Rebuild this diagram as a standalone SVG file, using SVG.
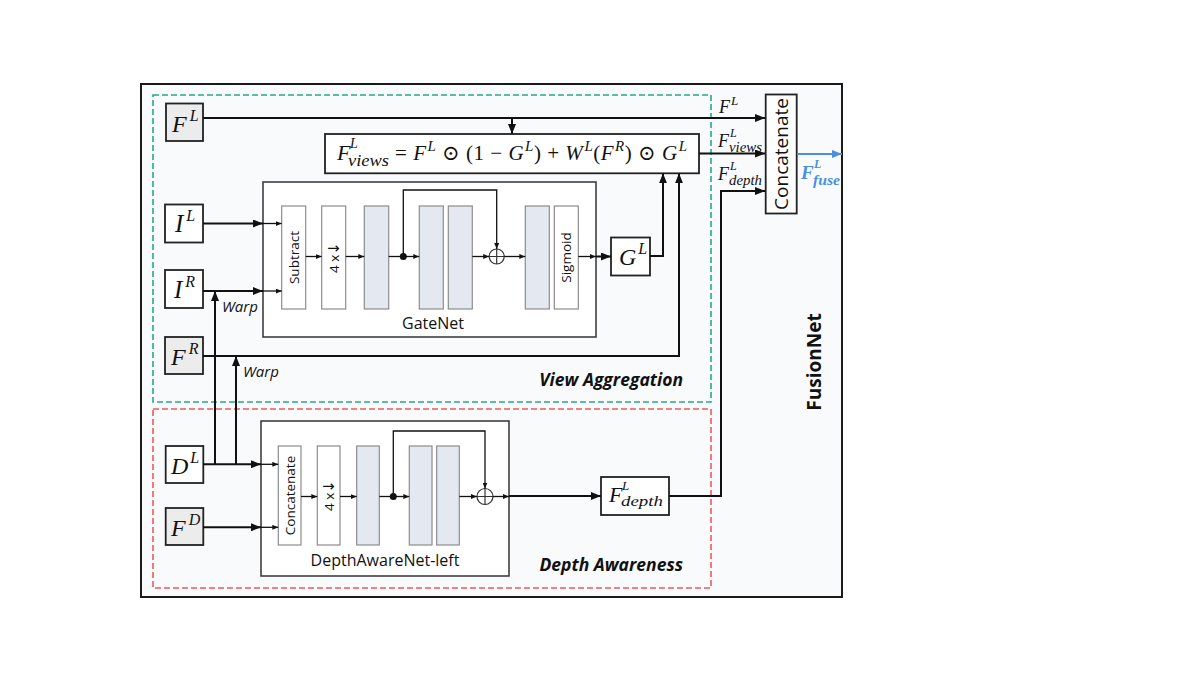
<svg xmlns="http://www.w3.org/2000/svg" width="1200" height="675" viewBox="0 0 1200 675">
<defs>
<style>
.frame{fill:#f9fafc;stroke:#1a1a1a;stroke-width:2}
.line{fill:none;stroke:#111;stroke-width:2}
.thin{fill:none;stroke:#111;stroke-width:1.3}
.node{fill:#fff;stroke:#222;stroke-width:1.8}
.gnode{fill:#ececec;stroke:#222;stroke-width:1.8}
.net{fill:#fff;stroke:#333;stroke-width:1.5}
.blk{fill:#fff;stroke:#8c8c8c;stroke-width:1.2}
.gblk{fill:#e4e9f1;stroke:#8c8c8c;stroke-width:1.2}
.math{font-family:"Liberation Serif","DejaVu Serif",serif;font-style:italic;fill:#111}
.up{font-style:normal}
.sans{font-family:"Open Sans","Liberation Sans",sans-serif;fill:#111}
.region{font-family:"Open Sans","Liberation Sans",sans-serif;font-weight:bold;font-style:italic;font-size:17.5px;fill:#111}
.arrowg{font-family:"DejaVu Sans",sans-serif}
</style>
<marker id="big" markerUnits="userSpaceOnUse" markerWidth="10" markerHeight="8" refX="10" refY="4" orient="auto"><path d="M0,0 L10,4 L0,8 z" fill="#111"/></marker>
<marker id="sm" markerUnits="userSpaceOnUse" markerWidth="6" markerHeight="5" refX="6" refY="2.5" orient="auto"><path d="M0,0 L6,2.5 L0,5 z" fill="#111"/></marker>
<marker id="blue" markerUnits="userSpaceOnUse" markerWidth="10" markerHeight="8" refX="10" refY="4" orient="auto"><path d="M0,0 L10,4 L0,8 z" fill="#4a8fe2"/></marker>
</defs>

<rect x="141" y="84" width="701" height="513" class="frame"/>
<rect x="153" y="95" width="558" height="307" fill="none" stroke="#2aa889" stroke-width="1.6" stroke-dasharray="6,3"/>
<rect x="153" y="409" width="558" height="179" fill="none" stroke="#ec5b5b" stroke-width="1.6" stroke-dasharray="6,3"/>

<text class="region" x="683" y="386" text-anchor="end">View Aggregation</text>
<text class="region" x="683" y="571" text-anchor="end">Depth Awareness</text>
<text class="sans" x="0" y="0" font-size="19" font-weight="bold" text-anchor="middle" transform="translate(821,362) rotate(-90)">FusionNet</text>

<g id="gatenet">
<rect x="263" y="182" width="333" height="155" class="net"/>
<rect x="281.7" y="206" width="24" height="103" class="blk"/>
<text class="sans" font-size="13.5" text-anchor="middle" transform="translate(298.5,257.5) rotate(-90)">Subtract</text>
<rect x="321.7" y="206" width="24" height="103" class="blk"/>
<text class="sans" font-size="13.5" text-anchor="middle" transform="translate(338.5,257.5) rotate(-90)">4 x<tspan class="arrowg" font-size="15">↓</tspan></text>
<rect x="364.3" y="206" width="24.4" height="103" class="gblk"/>
<rect x="419.3" y="206" width="24" height="103" class="gblk"/>
<rect x="448.3" y="206" width="24" height="103" class="gblk"/>
<rect x="525.3" y="206" width="24" height="103" class="gblk"/>
<rect x="554.3" y="206" width="24" height="103" class="blk"/>
<text class="sans" font-size="13.5" text-anchor="middle" transform="translate(571,257.5) rotate(-90)">Sigmoid</text>
<circle cx="496.7" cy="256.5" r="7.5" fill="#fff" stroke="#333" stroke-width="1.2"/>
<path d="M489.2,256.5 H504.2 M496.7,249 V264" stroke="#333" stroke-width="1.2"/>
<text class="sans" x="433" y="329" font-size="16" text-anchor="middle">GateNet</text>
</g>

<g id="depthawarenet">
<rect x="261" y="421" width="248" height="155" class="net"/>
<rect x="278.3" y="446" width="22.7" height="99" class="blk"/>
<text class="sans" font-size="13.5" text-anchor="middle" transform="translate(294.8,495.5) rotate(-90)">Concatenate</text>
<rect x="317.3" y="446" width="22.7" height="99" class="blk"/>
<text class="sans" font-size="13.5" text-anchor="middle" transform="translate(333.8,495.5) rotate(-90)">4 x<tspan class="arrowg" font-size="15">↓</tspan></text>
<rect x="356.7" y="446" width="22.6" height="99" class="gblk"/>
<rect x="409.3" y="446" width="22.7" height="99" class="gblk"/>
<rect x="436.7" y="446" width="22.6" height="99" class="gblk"/>
<circle cx="485" cy="496.5" r="8" fill="#fff" stroke="#333" stroke-width="1.2"/>
<path d="M477,496.5 H493 M485,488.5 V504.5" stroke="#333" stroke-width="1.2"/>
<text class="sans" x="385" y="566" font-size="16" text-anchor="middle">DepthAwareNet-left</text>
</g>

<g id="node-FL">
<rect x="166" y="103.5" width="37" height="37.5" class="gnode"/>
<text class="math" x="172" y="132" font-size="24">F<tspan font-size="16" dx="3" dy="-11">L</tspan></text>
</g>
<g id="node-IL">
<rect x="165" y="204.5" width="38" height="38" class="node"/>
<text class="math" x="175" y="232" font-size="25">I<tspan font-size="16" dx="3" dy="-11">L</tspan></text>
</g>
<g id="node-IR">
<rect x="165" y="270" width="38" height="38" class="node"/>
<text class="math" x="174" y="298" font-size="25">I<tspan font-size="16" dx="3" dy="-11">R</tspan></text>
</g>
<g id="node-FR">
<rect x="165" y="337" width="38" height="37" class="gnode"/>
<text class="math" x="171" y="365" font-size="24">F<tspan font-size="16" dx="3" dy="-11">R</tspan></text>
</g>
<g id="node-DL">
<rect x="165.7" y="446" width="37.6" height="37" class="node"/>
<text class="math" x="171" y="474" font-size="24">D<tspan font-size="16" dx="2" dy="-11">L</tspan></text>
</g>
<g id="node-FD">
<rect x="165.7" y="508" width="37.6" height="37" class="gnode"/>
<text class="math" x="171" y="536" font-size="24">F<tspan font-size="16" dx="3" dy="-11">D</tspan></text>
</g>
<g id="node-GL">
<rect x="611" y="237.5" width="39" height="38" class="node"/>
<text class="math" x="619" y="265" font-size="24">G<tspan font-size="16" dx="2" dy="-11">L</tspan></text>
</g>
<g id="node-formula">
<rect x="325" y="134" width="374" height="39.3" class="node"/>
<text class="math" x="337" y="160" font-size="22">F</text>
<text class="math" x="350" y="147.5" font-size="14">L</text>
<text class="math" x="348" y="166" font-size="16" textLength="41" lengthAdjust="spacingAndGlyphs">views</text>
<text class="math" x="395" y="160" font-size="21" textLength="292" lengthAdjust="spacing"><tspan class="up">= </tspan>F<tspan font-size="15" dx="1" dy="-9">L</tspan><tspan class="up" dy="9"> ⊙ (1 − </tspan>G<tspan font-size="15" dx="1" dy="-9">L</tspan><tspan class="up" dy="9">) + </tspan>W<tspan font-size="15" dx="1" dy="-9">L</tspan><tspan class="up" dy="9">(</tspan>F<tspan font-size="15" dx="1" dy="-9">R</tspan><tspan class="up" dy="9">) ⊙ </tspan>G<tspan font-size="15" dx="1" dy="-9">L</tspan></text>
</g>
<g id="node-Fdepth">
<rect x="601" y="477" width="68" height="38" class="node"/>
<text class="math" x="609" y="502" font-size="22">F</text>
<text class="math" x="622" y="489.5" font-size="13">L</text>
<text class="math" x="621" y="506" font-size="15.5" textLength="42" lengthAdjust="spacingAndGlyphs">depth</text>
</g>
<g id="node-concat">
<rect x="765.7" y="94.5" width="31" height="119" class="node"/>
<text class="sans" font-size="19" text-anchor="middle" transform="translate(788,154) rotate(-90)">Concatenate</text>
</g>

<g id="connectors">
<path d="M203,118 H765" class="line" marker-end="url(#big)"/>
<path d="M512,118 V134" class="line" marker-end="url(#big)"/>
<path d="M699,153.5 H765" class="line" marker-end="url(#big)"/>
<path d="M669,496 H721 V191 H765" class="line" marker-end="url(#big)"/>
<path d="M797,154 H842" fill="none" stroke="#4a8fe2" stroke-width="2" marker-end="url(#blue)"/>
<path d="M203,223.5 H263" class="line" marker-end="url(#big)"/>
<path d="M263,223.5 H281.7" class="thin" marker-end="url(#sm)"/>
<path d="M203,291 H263" class="line" marker-end="url(#big)"/>
<path d="M263,291 H281.7" class="thin" marker-end="url(#sm)"/>
<path d="M215,464.3 V291" class="line" marker-end="url(#big)"/>
<path d="M236,464.3 V356" class="line" marker-end="url(#big)"/>
<path d="M203,356 H679 V173.3" class="line" marker-end="url(#big)"/>
<path d="M650,256 H663 V173.3" class="line" marker-end="url(#big)"/>
<path d="M578.3,256.5 H596" class="thin" marker-end="url(#sm)"/>
<path d="M596,256.5 H611" class="line" marker-end="url(#big)"/>
<path d="M305.7,256.5 H321.7" class="thin" marker-end="url(#sm)"/>
<path d="M345.7,256.5 H364.3" class="thin" marker-end="url(#sm)"/>
<path d="M388.7,256.5 H419.3" class="thin" marker-end="url(#sm)"/>
<path d="M472.3,256.5 H489.2" class="thin" marker-end="url(#sm)"/>
<path d="M504.2,256.5 H525.3" class="thin" marker-end="url(#sm)"/>
<path d="M403.3,256.5 V190 H496.7 V249" class="thin" marker-end="url(#sm)"/>
<circle cx="403.3" cy="256.5" r="3.5" fill="#111"/>
<path d="M203,464.3 H261" class="line" marker-end="url(#big)"/>
<path d="M261,464.3 H278.3" class="thin" marker-end="url(#sm)"/>
<path d="M203,527.3 H261" class="line" marker-end="url(#big)"/>
<path d="M261,527.3 H278.3" class="thin" marker-end="url(#sm)"/>
<path d="M301,496.5 H317.3" class="thin" marker-end="url(#sm)"/>
<path d="M340,496.5 H356.7" class="thin" marker-end="url(#sm)"/>
<path d="M379.3,496.5 H409.3" class="thin" marker-end="url(#sm)"/>
<path d="M459.3,496.5 H477" class="thin" marker-end="url(#sm)"/>
<path d="M493,496.5 H509" class="thin" marker-end="url(#sm)"/>
<path d="M509,496 H601" class="line" marker-end="url(#big)"/>
<path d="M393.3,496.5 V431 H485 V488.5" class="thin" marker-end="url(#sm)"/>
<circle cx="393.3" cy="496.5" r="3.5" fill="#111"/>
</g>

<g id="labels">
<text class="sans" x="222" y="312" font-size="15" font-style="italic">Warp</text>
<text class="sans" x="243" y="377" font-size="15" font-style="italic">Warp</text>
<text class="math" x="719" y="113" font-size="18">F<tspan font-size="13" dx="1" dy="-8">L</tspan></text>
<text class="math" x="718" y="147" font-size="18">F</text>
<text class="math" x="730" y="137" font-size="12">L</text>
<text class="math" x="729" y="151.5" font-size="14" textLength="33" lengthAdjust="spacingAndGlyphs">views</text>
<text class="math" x="718" y="180" font-size="18">F</text>
<text class="math" x="730" y="170" font-size="12">L</text>
<text class="math" x="729" y="184.5" font-size="14" textLength="33" lengthAdjust="spacingAndGlyphs">depth</text>
<text class="math" x="801" y="179" font-size="19" font-weight="bold" style="fill:#4a8fe2">F</text>
<text class="math" x="814" y="168" font-size="12" font-weight="bold" style="fill:#4a8fe2">L</text>
<text class="math" x="813" y="184.5" font-size="14" font-weight="bold" style="fill:#4a8fe2" textLength="27" lengthAdjust="spacingAndGlyphs">fuse</text>
</g>
</svg>
